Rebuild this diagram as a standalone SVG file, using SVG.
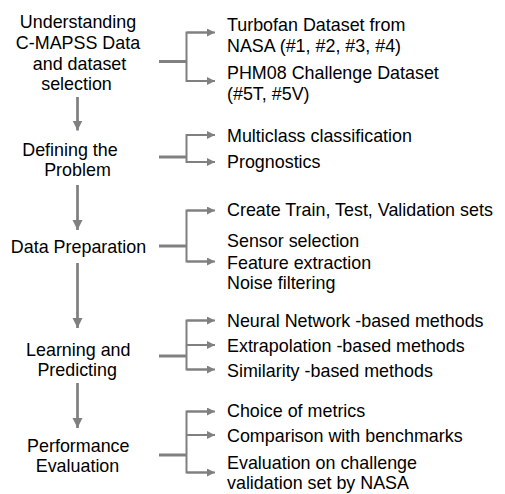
<svg xmlns="http://www.w3.org/2000/svg" width="505" height="494" viewBox="0 0 505 494">
<defs>
<style>
text{font-family:"Liberation Sans",Arial,sans-serif;font-size:17.9px;fill:#000}
.c{text-anchor:middle}
.ln{stroke:#808080;fill:none}
.stub{stroke-width:3}
.br{stroke-width:2}
.v{stroke-width:2.75}
</style>
<marker id="sa" markerUnits="userSpaceOnUse" markerWidth="9" markerHeight="9" refX="8" refY="4" orient="auto">
<path d="M0,0 L8,4 L0,8 Z" fill="#808080"/>
</marker>
<marker id="va" markerUnits="userSpaceOnUse" markerWidth="11" markerHeight="11" refX="10" refY="5" orient="auto">
<path d="M0,0 L10,5 L0,10 Z" fill="#808080"/>
</marker>
</defs>
<rect width="505" height="494" fill="#fff"/>
<g id="connectors">
<path class="ln v" d="M77.5,97 V130.5" marker-end="url(#va)"/>
<path class="ln v" d="M77.5,185 V230" marker-end="url(#va)"/>
<path class="ln v" d="M77.5,263 V328" marker-end="url(#va)"/>
<path class="ln v" d="M77.5,383 V428" marker-end="url(#va)"/>
<path class="ln stub" d="M159,61.5 H187"/>
<path class="ln br" d="M207,32.5 H186.5 V81 H207"/>
<path class="ln br" d="M187,32.5 H215" marker-end="url(#sa)"/>
<path class="ln br" d="M187,81 H215" marker-end="url(#sa)"/>
<path class="ln stub" d="M159,157 H187"/>
<path class="ln br" d="M207,135 H186.5 V162 H207"/>
<path class="ln br" d="M187,135 H215" marker-end="url(#sa)"/>
<path class="ln br" d="M187,162 H215" marker-end="url(#sa)"/>
<path class="ln stub" d="M159,246 H187"/>
<path class="ln br" d="M207,210.5 H186.5 V261.5 H207"/>
<path class="ln br" d="M187,210.5 H215" marker-end="url(#sa)"/>
<path class="ln br" d="M187,261.5 H215" marker-end="url(#sa)"/>
<path class="ln stub" d="M159,356 H187"/>
<path class="ln br" d="M207,320.5 H186.5 V369.5 H207"/>
<path class="ln br" d="M187,320.5 H215" marker-end="url(#sa)"/>
<path class="ln br" d="M187,345 H215" marker-end="url(#sa)"/>
<path class="ln br" d="M187,369.5 H215" marker-end="url(#sa)"/>
<path class="ln stub" d="M159,455 H187"/>
<path class="ln br" d="M207,411.5 H186.5 V472.5 H207"/>
<path class="ln br" d="M187,411.5 H215" marker-end="url(#sa)"/>
<path class="ln br" d="M187,435 H215" marker-end="url(#sa)"/>
<path class="ln br" d="M187,472.5 H215" marker-end="url(#sa)"/>
</g>
<g id="n1">
<text class="c" x="78" y="28.3">Understanding</text>
<text class="c" x="78" y="49">C-MAPSS Data</text>
<text class="c" x="79.5" y="69.7">and dataset</text>
<text class="c" x="76.5" y="90.4">selection</text>
</g>
<g id="n1-items">
<text x="227" y="30.5">Turbofan Dataset from</text>
<text x="227" y="51.7">NASA (#1, #2, #3, #4)</text>
<text x="227" y="79">PHM08 Challenge  Dataset</text>
<text x="227" y="99.5">(#5T, #5V)</text>
</g>
<g id="n2">
<text class="c" x="70" y="155.5">Defining the</text>
<text class="c" x="77.5" y="175.5">Problem</text>
</g>
<g id="n2-items">
<text x="227" y="141.7">Multiclass  classification</text>
<text x="227" y="168">Prognostics</text>
</g>
<g id="n3">
<text class="c" x="78.5" y="253.3">Data Preparation</text>
</g>
<g id="n3-items">
<text x="227" y="216">Create Train, Test, Validation sets</text>
<text x="227" y="247">Sensor selection</text>
<text x="227" y="269">Feature extraction</text>
<text x="227" y="289.3">Noise filtering</text>
</g>
<g id="n4">
<text class="c" x="78.3" y="355.5">Learning and</text>
<text class="c" x="77.2" y="375.5">Predicting</text>
</g>
<g id="n4-items">
<text x="227" y="326.7">Neural Network -based methods</text>
<text x="227" y="352">Extrapolation -based methods</text>
<text x="227" y="376.5">Similarity -based methods</text>
</g>
<g id="n5">
<text class="c" x="78.3" y="451.7">Performance</text>
<text class="c" x="77.5" y="471.7">Evaluation</text>
</g>
<g id="n5-items">
<text x="227" y="416.7">Choice of metrics</text>
<text x="227" y="441.7">Comparison with  benchmarks</text>
<text x="227" y="469.3">Evaluation  on challenge</text>
<text x="227" y="489.3">validation  set by NASA</text>
</g>
</svg>
